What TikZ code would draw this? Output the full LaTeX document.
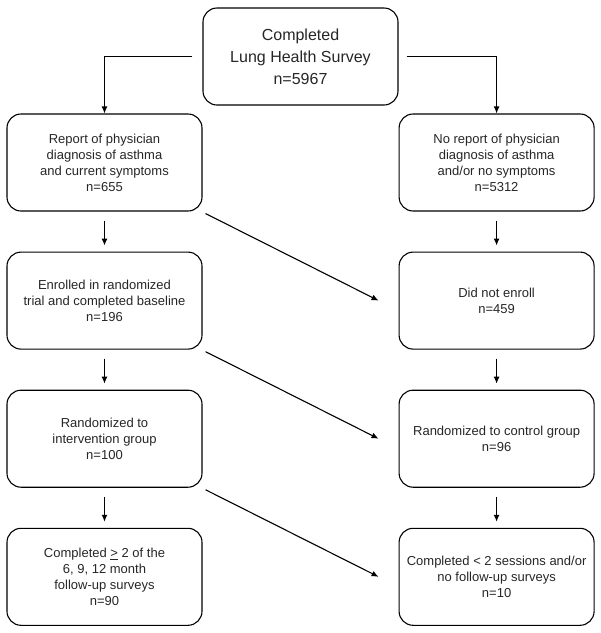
\documentclass[tikz,border=0pt]{standalone}
\usepackage{fontspec}
\setmainfont{Liberation Sans}
\usetikzlibrary{positioning,arrows.meta}

\begin{document}
\begin{tikzpicture}
[x=1pt,y=1pt,thick,line width=1.1pt,>={Latex[length=7pt,width=6pt]},
 box/.style={draw,rounded corners=14pt,minimum width=195pt,minimum height=97pt,
   align=center,text=black!85,font=\fontsize{13}{16}\selectfont,inner sep=1pt},
 bigbox/.style={box,font=\fontsize{16}{22}\selectfont},
 node distance=40pt and 196pt]
\useasboundingbox (0,0) rectangle (601,-633);
\node[bigbox] (survey) at (300.5,-56.5) {Completed\\Lung Health Survey\\n=5967};
\node[box] (report) at (104.5,-162.5) {Report of physician\\diagnosis of asthma\\and current symptoms\\n=655};
\node[box, below=of report] (enrolled) {Enrolled in randomized\\trial and completed baseline\\n=196};
\node[box, below=of enrolled] (interv) {Randomized to\\intervention group\\n=100};
\node[box, below=of interv] (followup) {Completed \underline{>} 2 of the\\6, 9, 12 month\\follow-up surveys\\n=90};
\node[box, right=of report] (noreport) {No report of physician\\diagnosis of asthma\\and/or no symptoms\\n=5312};
\node[box, right=of enrolled] (notenroll) {Did not enroll\\n=459};
\node[box, right=of interv] (control) {Randomized to control group\\n=96};
\node[box, right=of followup] (nofollow) {Completed < 2 sessions and/or\\no follow-up surveys\\n=10};
\draw[->] ([xshift=-10pt]survey.west) -| (report.north);
\draw[->] ([xshift=8pt]survey.east) -| (noreport.north);
\foreach \a/\b in {report/enrolled,enrolled/interv,interv/followup,
                   noreport/notenroll,notenroll/control,control/nofollow}
  \draw[->] ([yshift=-9pt]\a.south) -- ([yshift=6pt]\b.north);
\foreach \a/\b in {report/notenroll,enrolled/control,interv/nofollow}
  \draw[->] ([shift={(3pt,-2pt)}]\a.south east) -- ([xshift=-20pt]\b.west);
\end{tikzpicture}
\end{document}
